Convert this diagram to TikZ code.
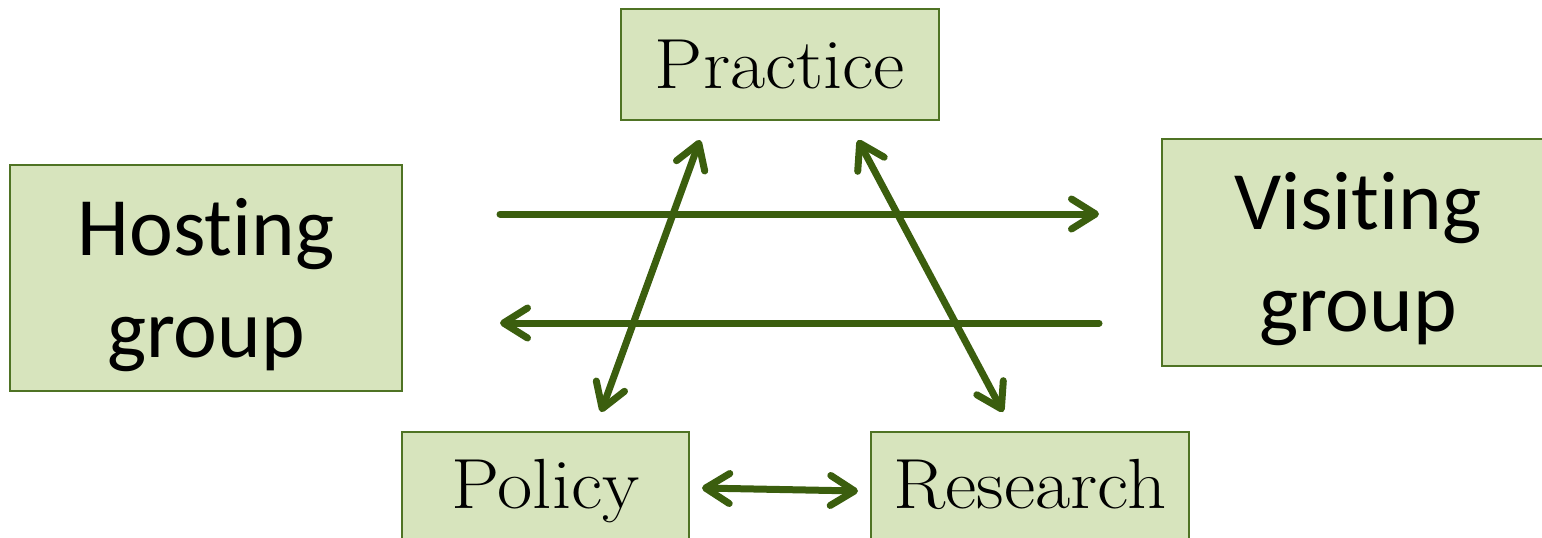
\documentclass[tikz,border=0pt]{standalone}
\usepackage{fontspec}
\newfontfamily\calib[Ligatures=NoCommon]{Carlito}
\usetikzlibrary{arrows.meta}
\definecolor{boxfill}{HTML}{D7E4BD}
\definecolor{boxline}{HTML}{4F7324}
\definecolor{arr}{HTML}{3B5E0E}
\newcommand{\widetext}[1]{\scalebox{1.08}[1]{#1}}
\tikzset{
  box/.style={draw=boxline, line width=2pt, fill=boxfill, inner sep=0pt},
  serifbox/.style={box, font=\fontsize{71}{80}\selectfont, text height=47pt, text depth=0pt},
  groupbox/.style={box, font=\calib\fontsize{83}{102}\selectfont, align=center, text height=158pt, text depth=0pt},
  link/.style={draw=arr, line width=7pt, line cap=round, line join=round},
  tip/.tip={Straight Barb[length=24pt,width=30pt,round]}
}
\begin{document}
\begin{tikzpicture}[x=1pt,y=-1pt]
\useasboundingbox (0,0) rectangle (1542,538);
\clip (0,0) rectangle (1542,538);
% boxes
\node[serifbox, minimum width=318pt, minimum height=111pt] (practice) at (780,64.5) {\widetext{Practice}};
\node[serifbox, minimum width=287pt, minimum height=111pt, text height=41pt] (policy) at (545.5,487.5) {\widetext{Policy}};
\node[serifbox, minimum width=318pt, minimum height=111pt, text height=41pt] (research) at (1030,487.5) {\widetext{Research}};
\node[groupbox, minimum width=392pt, minimum height=226pt] (host) at (206,278) {Hosting\\group};
\node[groupbox, minimum width=392pt, minimum height=227pt] (visit) at (1358,252.5) {Visiting\\group};
% connector end points
\coordinate (h1) at (500,214);
\coordinate (h2) at (1099,214);
\coordinate (v1) at (1099,323);
\coordinate (v2) at (500,323);
\coordinate (pa) at (700,140);
\coordinate (pb) at (601,412);
\coordinate (qa) at (858,140);
\coordinate (qb) at (1003,412);
\coordinate (ra) at (702,488);
\coordinate (rb) at (858,491);
% connectors
\draw[link, -tip] (h1) -- (h2);
\draw[link, -tip] (v1) -- (v2);
\draw[link, tip-tip] (pa) -- (pb);
\draw[link, tip-tip] (qa) -- (qb);
\draw[link, tip-tip] (ra) -- (rb);
\end{tikzpicture}
\end{document}
